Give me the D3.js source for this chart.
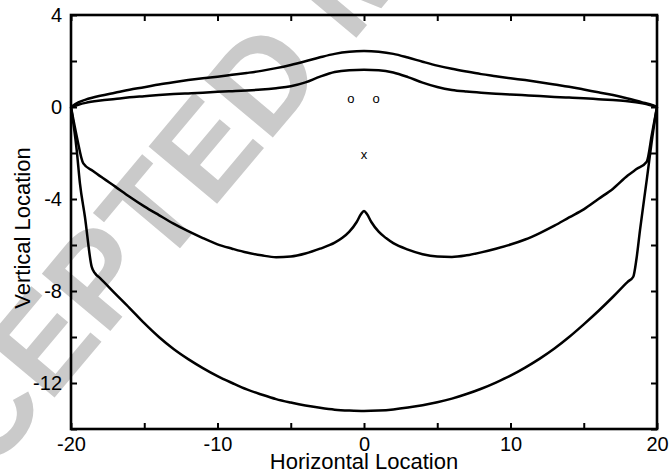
<!DOCTYPE html>
<html>
<head>
<meta charset="utf-8">
<script src="https://cdn.jsdelivr.net/npm/d3@7"></script>
<style>
  html, body { margin: 0; padding: 0; background: #fff; }
  svg { display: block; }
  text { font-family: "Liberation Sans", Arial, Helvetica, sans-serif; fill: #000; }
</style>
</head>
<body>
<svg id="chart" width="671" height="475"></svg>
<script>
// Boundary profiles (horizontal location vs vertical location)
const upperOuterX = [-20,-19.5,-19,-18,-17,-16,-15,-14,-13,-12,-11,-10,-9,-8,-7,-6,-5,-4,-3,-2,-1,0,1,2,3,4,5,6,7,8,9,10,11,12,13,14,15,16,17,18,19,19.5,20];
const upperOuterY = [0,0.2,0.32,0.49,0.62,0.75,0.86,0.98,1.08,1.17,1.25,1.32,1.4,1.48,1.57,1.69,1.83,1.99,2.16,2.31,2.4,2.43,2.4,2.31,2.15,1.97,1.8,1.66,1.54,1.43,1.34,1.25,1.17,1.08,0.98,0.88,0.76,0.64,0.52,0.37,0.2,0.12,0];

const upperInnerX = upperOuterX.slice();
const upperInnerY = [0,0.1,0.18,0.28,0.35,0.42,0.47,0.52,0.56,0.59,0.62,0.66,0.69,0.72,0.76,0.82,0.9,1.07,1.32,1.52,1.6,1.62,1.6,1.5,1.3,1.06,0.87,0.74,0.67,0.62,0.58,0.54,0.51,0.48,0.44,0.41,0.38,0.34,0.3,0.25,0.16,0.09,0];

const middleX = [-20,-19.6,-19.16,-18.5,-17.8,-17,-16,-15,-14,-13,-12,-11,-10,-9,-8,-7,-6,-5,-4,-3,-2,-1.5,-1,-0.5,-0.2,0,0.2,0.5,1,1.5,2,3,4,5,6,7,8,9,10,11,12,13,14,15,16,17,18,18.6,19.3,19.65,20];
const middleY = [0,-1.3,-2.45,-2.78,-3.1,-3.45,-3.9,-4.32,-4.7,-5.07,-5.4,-5.7,-5.97,-6.16,-6.33,-6.45,-6.53,-6.5,-6.37,-6.16,-5.9,-5.7,-5.42,-5.0,-4.65,-4.52,-4.65,-5.0,-5.42,-5.7,-5.92,-6.2,-6.4,-6.5,-6.52,-6.45,-6.32,-6.16,-5.98,-5.76,-5.48,-5.16,-4.8,-4.45,-4.0,-3.55,-2.98,-2.7,-2.38,-1.2,0];

const lowerX = [-20,-19.61,-19.39,-19.05,-18.59,-18.36,-18,-17,-16,-15,-14,-13,-12,-11,-10,-9,-8,-7,-6,-5,-4,-3,-2,-1,0,1,2,3,4,5,6,7,8,9,10,11,12,13,14,15,16,17,18,18.38,18.6,18.84,19.3,19.75,20];
const lowerY = [0,-1.87,-3.32,-4.77,-6.94,-7.23,-7.45,-8.1,-8.74,-9.4,-10.0,-10.52,-10.96,-11.35,-11.7,-12.0,-12.28,-12.5,-12.7,-12.85,-12.98,-13.08,-13.16,-13.2,-13.22,-13.2,-13.15,-13.07,-12.97,-12.84,-12.68,-12.48,-12.25,-11.98,-11.68,-11.33,-10.94,-10.5,-10.0,-9.45,-8.87,-8.25,-7.6,-7.38,-6.6,-5.35,-3.17,-1.0,0];

// Point markers
const markerX = [-0.9, 0.82, 0];
const markerY = [0.38, 0.38, -2.05];
const markerSymbol = ["o", "o", "x"];

// Axis ticks
const xTicks = [-20,-15,-10,-5,0,5,10,15,20];
const xLabels = [-20,-10,0,10,20];
const yTicks = [4,2,0,-2,-4,-6,-8,-10,-12,-14];
const yLabels = [4,0,-4,-8,-12];

const xTitle = "Horizontal Location";
const yTitle = "Vertical Location";
const stamp = "ACCEPTED MANUSCRIPT";

const W = 671, H = 475;
const m = { left: 71, right: 14, top: 15, bottom: 46 };
const iw = W - m.left - m.right, ih = H - m.top - m.bottom;

const svg = d3.select("#chart");

// Diagonal stamp behind the plot
svg.append("text")
  .attr("transform", "translate(-132,620) rotate(-50)")
  .attr("font-size", 130)
  .attr("font-weight", "bold")
  .style("fill", "#cacaca")
  .text(stamp);

const g = svg.append("g").attr("transform", `translate(${m.left},${m.top})`);

const x = d3.scaleLinear().domain([-20, 20]).range([0, iw]);
const y = d3.scaleLinear().domain([-14, 4]).range([ih, 0]);

const fmtX = d => xLabels.includes(d) ? String(d) : "";
const fmtY = d => yLabels.includes(d) ? String(d) : "";

const styleAxis = sel => {
  sel.select(".domain").remove();
  sel.selectAll(".tick line").attr("stroke", "#000").attr("stroke-width", 2);
  sel.selectAll(".tick text").attr("font-size", 20).style("font-family", '"Liberation Sans", Arial, sans-serif');
};

g.append("g").attr("transform", `translate(0,${ih})`)
  .call(d3.axisBottom(x).tickValues(xTicks).tickFormat(fmtX).tickSize(-6).tickPadding(8))
  .call(styleAxis);
g.append("g")
  .call(d3.axisTop(x).tickValues(xTicks).tickFormat("").tickSize(-6))
  .call(styleAxis);
g.append("g")
  .call(d3.axisLeft(y).tickValues(yTicks).tickFormat(fmtY).tickSize(-6).tickPadding(9))
  .call(styleAxis);
g.append("g").attr("transform", `translate(${iw},0)`)
  .call(d3.axisRight(y).tickValues(yTicks).tickFormat("").tickSize(-6))
  .call(styleAxis);

// Frame
g.append("rect")
  .attr("x", 0).attr("y", 0).attr("width", iw).attr("height", ih)
  .attr("fill", "none").attr("stroke", "#000").attr("stroke-width", 2.6);

// Profiles
const line = d3.line().x(d => x(d[0])).y(d => y(d[1])).curve(d3.curveMonotoneX);
const profiles = [
  d3.zip(upperOuterX, upperOuterY),
  d3.zip(upperInnerX, upperInnerY),
  d3.zip(middleX, middleY),
  d3.zip(lowerX, lowerY)
];
g.selectAll("path.profile").data(profiles).join("path")
  .attr("class", "profile")
  .attr("d", line)
  .attr("fill", "none")
  .attr("stroke", "#000")
  .attr("stroke-width", 2.5)
  .attr("stroke-linejoin", "round");

// Markers
g.selectAll("text.marker").data(d3.range(markerX.length)).join("text")
  .attr("class", "marker")
  .attr("x", i => x(markerX[i]))
  .attr("y", i => y(markerY[i]))
  .attr("text-anchor", "middle")
  .attr("dominant-baseline", "central")
  .attr("font-size", 13)
  .text(i => markerSymbol[i]);

// Axis titles
svg.append("text")
  .attr("x", m.left + x(0)).attr("y", 469)
  .attr("text-anchor", "middle")
  .attr("font-size", 22)
  .text(xTitle);
svg.append("text")
  .attr("transform", `translate(30,${228}) rotate(-90)`)
  .attr("text-anchor", "middle")
  .attr("font-size", 22)
  .text(yTitle);
</script>
</body>
</html>
